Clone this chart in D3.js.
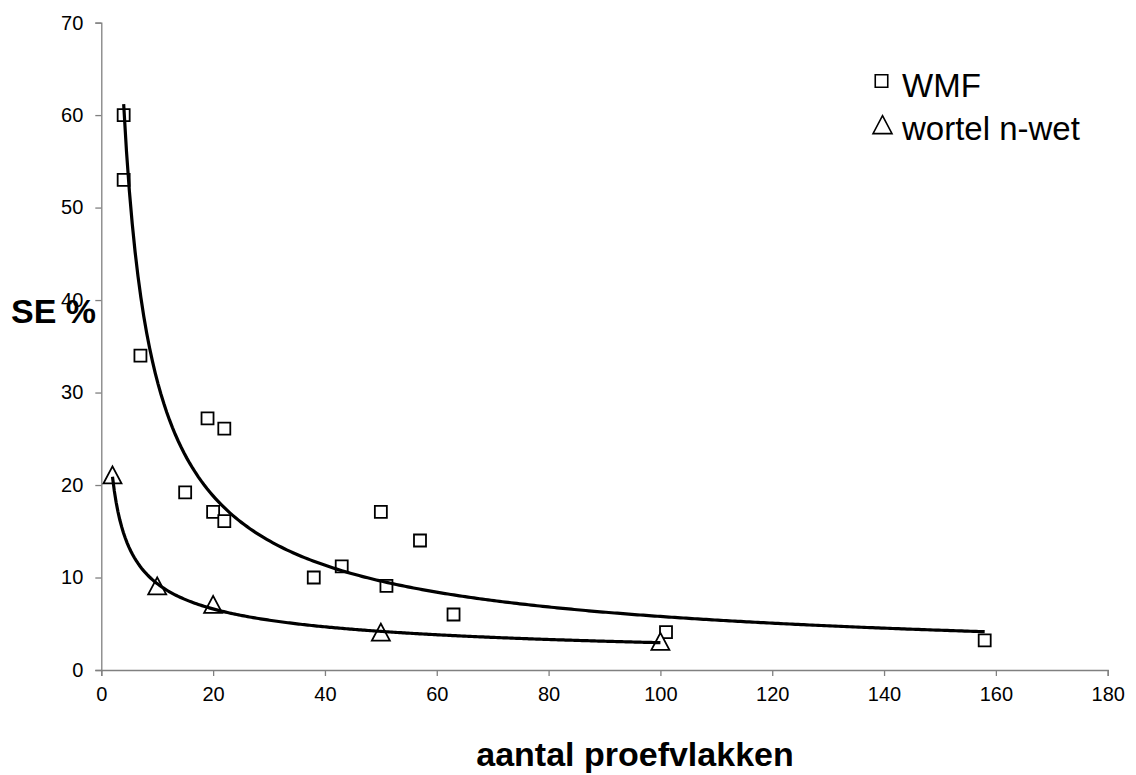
<!DOCTYPE html>
<html>
<head>
<meta charset="utf-8">
<script src="https://cdn.jsdelivr.net/npm/d3@7"></script>
<style>
  html, body { margin: 0; padding: 0; background: #fff; }
  svg { display: block; font-family: Arial, "Liberation Sans", sans-serif; }
</style>
</head>
<body>
<svg id="chart" width="1136" height="775"></svg>
<script>
// Sampling data: number of plots vs. standard error (%)
const wmfN  = [4, 4, 7, 19, 22, 15, 20, 22, 50, 38, 43, 51, 57, 63, 101, 158];
const wmfSE = [60, 53, 34, 27.2, 26.1, 19.2, 17.1, 16.1, 17.1, 10, 11.2, 9.1, 14, 6, 4.1, 3.2];
const wortelN  = [2, 10, 20, 50, 100];
const wortelSE = [21, 9, 7, 4, 3];

const xTicks = [0, 20, 40, 60, 80, 100, 120, 140, 160, 180];
const yTicks = [0, 10, 20, 30, 40, 50, 60, 70];

const seriesNames = ["WMF", "wortel n-wet"];
const xTitle = "aantal proefvlakken";
const yTitle = "SE %";

const svg = d3.select("#chart");

const x = d3.scaleLinear().domain([0, 180]).range([101.3, 1107.7]);
const y = d3.scaleLinear().domain([0, 70]).range([670, 22.6]);

const axisColor = "#808080";

// Y axis
const yAxis = svg.append("g").attr("transform", `translate(${x(0)},0)`)
  .call(d3.axisLeft(y).tickValues(yTicks).tickSize(6).tickPadding(12).tickFormat(d3.format("d")));
// X axis
const xAxis = svg.append("g").attr("transform", `translate(0,${y(0)})`)
  .call(d3.axisBottom(x).tickValues(xTicks).tickSize(6).tickPadding(11).tickFormat(d3.format("d")));

[yAxis, xAxis].forEach(g => {
  g.select(".domain").attr("stroke", axisColor).attr("stroke-width", 1.3);
  g.selectAll(".tick line").attr("stroke", axisColor).attr("stroke-width", 1.3);
  g.selectAll(".tick text").attr("fill", "#000").style("font-size", "20px")
    .style("font-family", "Arial, 'Liberation Sans', sans-serif");
});

// Power trendline (least squares on log–log values), as in a spreadsheet trendline
function powerFit(xs, ys) {
  const lx = xs.map(Math.log), ly = ys.map(Math.log);
  const mx = d3.mean(lx), my = d3.mean(ly);
  let sxy = 0, sxx = 0;
  lx.forEach((v, i) => { sxy += (v - mx) * (ly[i] - my); sxx += (v - mx) * (v - mx); });
  const b = sxy / sxx;
  const a = Math.exp(my - b * mx);
  return t => a * Math.pow(t, b);
}

function trendPoints(xs, ys) {
  const f = powerFit(xs, ys);
  const [lo, hi] = d3.extent(xs);
  const n = 300;
  return d3.range(n + 1).map(i => {
    const t = lo + (hi - lo) * i / n;
    return [t, f(t)];
  });
}

const lineGen = d3.line().x(d => x(d[0])).y(d => y(d[1]));

// Marker shapes
const sq = 12;
function squarePath(cx, cy, s) {
  return `M${cx - s / 2},${cy - s / 2}h${s}v${s}h${-s}Z`;
}
function trianglePath(cx, cy, w, h) {
  return `M${cx},${cy - h * 0.55}L${cx + w / 2},${cy + h * 0.45}L${cx - w / 2},${cy + h * 0.45}Z`;
}

const wmfData = wmfN.map((n, i) => ({ n, se: wmfSE[i] }));
const wortelData = wortelN.map((n, i) => ({ n, se: wortelSE[i] }));

svg.append("g").selectAll("path").data(wmfData).join("path")
  .attr("d", d => squarePath(x(d.n), y(d.se), sq))
  .attr("fill", "#fff").attr("stroke", "#000").attr("stroke-width", 1.8);

svg.append("g").selectAll("path").data(wortelData).join("path")
  .attr("d", d => trianglePath(x(d.n), y(d.se), 18, 17))
  .attr("fill", "#fff").attr("stroke", "#000").attr("stroke-width", 1.8);

// Trendlines
svg.append("path").datum(trendPoints(wmfN, wmfSE))
  .attr("d", lineGen).attr("fill", "none").attr("stroke", "#000").attr("stroke-width", 3.2);
svg.append("path").datum(trendPoints(wortelN, wortelSE))
  .attr("d", lineGen).attr("fill", "none").attr("stroke", "#000").attr("stroke-width", 3.2);

// Legend
const legend = svg.append("g");
legend.append("path").attr("d", squarePath(881.5, 81, 12.5))
  .attr("fill", "#fff").attr("stroke", "#000").attr("stroke-width", 1.6);
legend.append("text").attr("x", 902).attr("y", 97).text(seriesNames[0])
  .style("font-size", "33px");
legend.append("path").attr("d", trianglePath(882.5, 125.5, 19, 18))
  .attr("fill", "#fff").attr("stroke", "#000").attr("stroke-width", 1.6);
legend.append("text").attr("x", 902).attr("y", 140).text(seriesNames[1])
  .style("font-size", "33px");

// Axis titles
svg.append("text").attr("x", 635).attr("y", 766).attr("text-anchor", "middle")
  .style("font-size", "34px").style("font-weight", "bold").text(xTitle);
svg.append("text").attr("x", 11).attr("y", 323)
  .style("font-size", "34px").style("font-weight", "bold").text(yTitle);
</script>
</body>
</html>
